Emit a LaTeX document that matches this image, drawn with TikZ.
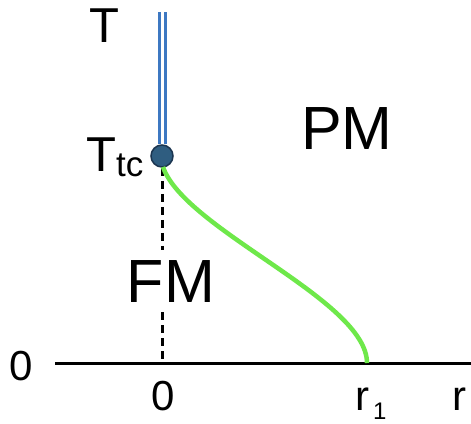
\documentclass[tikz,border=0pt]{standalone}
\usepackage{fontspec}
\setmainfont{Liberation Sans}
\definecolor{lineblue}{HTML}{3D78C2}
\definecolor{dotfill}{HTML}{2F5D80}
\definecolor{dotedge}{HTML}{1B3550}
\definecolor{curvegreen}{HTML}{6EE84A}
\begin{document}
\begin{tikzpicture}[x=1pt,y=-1pt,
  lbl/.style={inner sep=0pt, anchor=base west},
  axisline/.style={line width=3pt, black},
  dashline/.style={line width=3pt, black, dash pattern=on 8pt off 5pt},
  bigfont/.style={font=\fontsize{61}{61}\selectfont},
  midfont/.style={font=\fontsize{49}{49}\selectfont},
  smallfont/.style={font=\fontsize{42}{42}\selectfont}]
\useasboundingbox (0,0) rectangle (471,423);
% axis
\coordinate (axL) at (55,363);
\coordinate (axR) at (471,363);
\draw[axisline] (axL) -- (axR);
% tricritical point
\coordinate (top) at (162,12);
\node[circle, fill=dotfill, draw=dotedge, line width=1.5pt, minimum size=22pt, inner sep=0pt] (tc) at (162,156) {};
\draw[lineblue, line width=3pt, double=white, double distance=3pt] (top) -- (tc.north);
% FM label and dashed line
\node[bigfont, inner sep=10pt, anchor=base] (FM) at (171,302) {FM};
\coordinate (zero) at (162,363);
\draw[dashline] (tc.south) -- (tc.south |- FM.north);
\draw[dashline] (tc.south |- FM.south) -- (zero);
% green curve
\coordinate (r1pt) at (367,363);
\draw[curvegreen, line width=4.5pt] (163,167) .. controls (185,230) and (367,300) .. (r1pt);
% labels
\node[bigfont, inner sep=0pt, anchor=base] (PM) at (347,149) {PM};
\node[midfont, lbl] (Tlab) at (89,42) {T};
\node[midfont, lbl] (Ttc) at (86,171) {T\raisebox{-5pt}{\fontsize{35}{35}\selectfont tc}};
\node[smallfont, inner sep=0pt, anchor=base] (zeroL) at (21,380) {0};
\node[smallfont, inner sep=0pt, anchor=base] (zeroB) at (163,410) {0};
\node[smallfont, lbl] (r1) at (355,410) {r\raisebox{-9pt}{\fontsize{24}{24}\selectfont\,1}};
\node[smallfont, lbl] (rlab) at (452,410) {r};
\end{tikzpicture}
\end{document}
